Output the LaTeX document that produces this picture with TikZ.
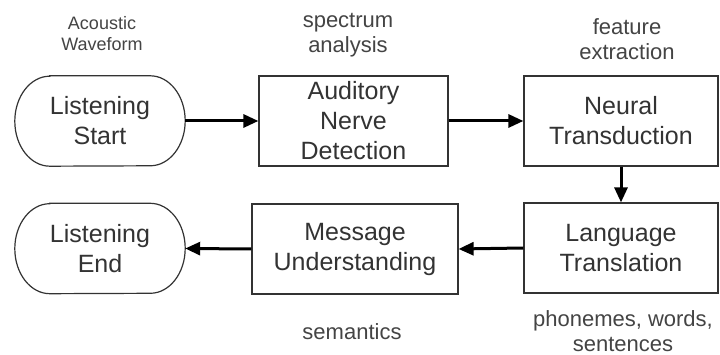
\documentclass[tikz,border=0pt]{standalone}
\usepackage{fontspec}
\setmainfont{Liberation Sans}
\usetikzlibrary{arrows.meta}
\definecolor{ink}{HTML}{333333}
\definecolor{note}{HTML}{444444}
\tikzset{
  stagebox/.style={draw=ink, line width=1.2pt, inner sep=0pt, align=center,
    text=ink, font=\fontsize{25}{30}\selectfont},
  termbox/.style={inner sep=0pt, align=center, text=ink,
    minimum width=170pt, minimum height=90pt, font=\fontsize{25}{30}\selectfont},
  termline/.style={draw=ink, line width=1.2pt},
  caption/.style={inner sep=0pt, align=center, text=note,
    font=\fontsize{22}{25}\selectfont},
  smallcaption/.style={inner sep=0pt, align=center, text=note,
    font=\fontsize{18}{21}\selectfont},
  flow/.style={line width=3pt, -{Triangle[length=15pt, width=13pt]}},
}
% rounded terminal outline with elliptical ends
\newcommand{\terminal}[1]{%
  \draw[termline] ([xshift=35pt]#1.north west) -- ([xshift=-35pt]#1.north east)
    arc[start angle=90, end angle=-90, x radius=35pt, y radius=45pt]
    -- ([xshift=35pt]#1.south west)
    arc[start angle=270, end angle=90, x radius=35pt, y radius=45pt] -- cycle;}
\begin{document}
\begin{tikzpicture}[x=1pt, y=1pt]
  \useasboundingbox[fill=white] (0,0) rectangle (720,355);

  % stages
  \node[termbox] (start) at (100,234) {Listening\\Start};
  \terminal{start}
  \node[stagebox, minimum width=189pt, minimum height=90pt] (aud) at (353.5,234) {Auditory\\Nerve\\Detection};
  \node[stagebox, minimum width=194pt, minimum height=90pt] (neural) at (621,234) {Neural\\Transduction};
  \node[stagebox, minimum width=194pt, minimum height=90pt] (lang) at (621,107) {Language\\Translation};
  \node[stagebox, minimum width=206pt, minimum height=90pt] (msg) at (355,106) {Message\\Understanding};
  \node[termbox] (end) at (100,106.5) {Listening\\End};
  \terminal{end}

  % annotations
  \node[smallcaption] (acoustic) at (102,321) {Acoustic\\Waveform};
  \node[caption] (spectrum) at (348,320) {spectrum\\analysis};
  \node[caption] (feature) at (627,316) {feature\\extraction};
  \node[caption, anchor=base] (semantics) at (352,15) {semantics};
  \node[caption] (phonemes) at (623,24) {phonemes, words,\\sentences};

  % flow
  \draw[flow] (start.east) -- (aud.west);
  \draw[flow] (aud.east) -- (neural.west);
  \draw[flow] (neural.south) -- (lang.north);
  \draw[flow] (lang.west) -- (msg.east);
  \draw[flow] (msg.west) -- (end.east);
\end{tikzpicture}
\end{document}
